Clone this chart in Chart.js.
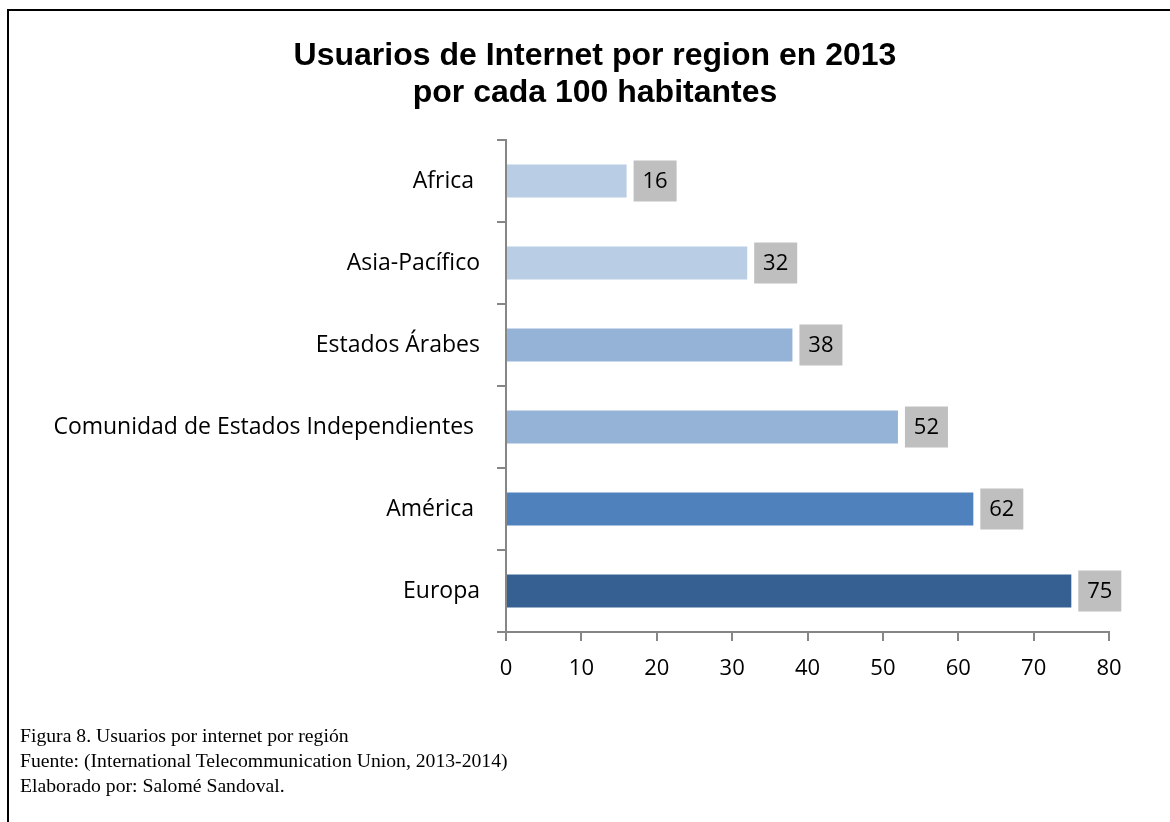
<!DOCTYPE html>
<html>
<head>
<meta charset="utf-8">
<script src="https://cdn.jsdelivr.net/npm/chart.js@4"></script>
<style>
  html, body { margin: 0; padding: 0; background: #fff; }
  #wrap { position: relative; width: 1170px; height: 822px; overflow: hidden; }
  #frame { position: absolute; left: 7px; top: 9px; width: 1200px; height: 900px;
           border-top: 2px solid #000; border-left: 2px solid #000; box-sizing: border-box; }
  #chart { position: absolute; left: 0; top: 0; }
  #title { position: absolute; left: 0; top: 36px; width: 1190px; text-align: center;
           font-family: Arial, "Liberation Sans", sans-serif; font-weight: bold; font-size: 32px; line-height: 37px; color: #000; }
  #caption { position: absolute; left: 20px; top: 723px; font-family: "Liberation Serif", "Times New Roman", serif;
             font-size: 19.7px; line-height: 25px; color: #000; }
</style>
</head>
<body>
<div id="wrap">
  <div id="frame"></div>
  <canvas id="chart" width="1170" height="822"></canvas>
  <div id="title"></div>
  <div id="caption">
    Figura 8. Usuarios por internet por región<br>
    Fuente: (International Telecommunication Union, 2013-2014)<br>
    Elaborado por: Salomé Sandoval.
  </div>
</div>
<script>
// Internet users per 100 inhabitants, 2013
const regions = ['Africa ', 'Asia-Pacífico', 'Estados Árabes', 'Comunidad de Estados Independientes ', 'América ', 'Europa'];
const usersPer100 = [16, 32, 38, 52, 62, 75];
const barColors = ['#B9CDE5', '#B9CDE5', '#95B3D7', '#95B3D7', '#4F81BD', '#376092'];
const xTicks = [0, 10, 20, 30, 40, 50, 60, 70, 80];
const titleLines = ['Usuarios de Internet por region en 2013', 'por cada 100 habitantes'];

document.getElementById('title').innerHTML = titleLines.join('<br>');

const labelFont = '"Open Sans", "Noto Sans", sans-serif';

// Grey value boxes drawn just past the end of each bar
const valueBoxes = {
  id: 'valueBoxes',
  afterDatasetsDraw(chart) {
    const ctx = chart.ctx;
    const meta = chart.getDatasetMeta(0);
    ctx.save();
    ctx.font = '22px ' + labelFont;
    ctx.textAlign = 'center';
    ctx.textBaseline = 'middle';
    meta.data.forEach((bar, i) => {
      const txt = String(usersPer100[i]);
      const w = 43, h = 41;
      const x0 = bar.x + 7;
      const y0 = bar.y - h / 2;
      ctx.fillStyle = '#BFBFBF';
      ctx.fillRect(x0, y0, w, h);
      ctx.fillStyle = '#000';
      ctx.fillText(txt, x0 + w / 2, bar.y + 1);
    });
    ctx.restore();
  }
};

new Chart(document.getElementById('chart'), {
  type: 'bar',
  data: {
    labels: regions,
    datasets: [{
      data: usersPer100,
      backgroundColor: barColors,
      borderWidth: 0,
      categoryPercentage: 0.4,
      barPercentage: 1.0
    }]
  },
  options: {
    indexAxis: 'y',
    responsive: false,
    animation: false,
    events: [],
    layout: { padding: { left: 20, right: 61, top: 140, bottom: 130 } },
    plugins: {
      legend: { display: false },
      tooltip: { enabled: false },
      title: { display: false }
    },
    scales: {
      x: {
        min: 0,
        max: 80,
        afterBuildTicks(scale) { scale.ticks = xTicks.map(v => ({ value: v })); },
        afterFit(scale) { scale.height = 60; },
        grid: { display: true, drawOnChartArea: false, drawTicks: true, tickLength: 9, color: '#868686', lineWidth: 2 },
        border: { display: true, color: '#868686', width: 2 },
        ticks: { color: '#000', font: { family: labelFont, size: 22 }, padding: 15 }
      },
      y: {
        afterFit(scale) { scale.width = 486; },
        grid: { display: true, drawOnChartArea: false, drawTicks: true, tickLength: 9, offset: true, color: '#868686', lineWidth: 2 },
        border: { display: true, color: '#868686', width: 2 },
        ticks: { color: '#000', font: { family: labelFont, size: 23 }, padding: 17, crossAlign: 'near' }
      }
    }
  },
  plugins: [valueBoxes]
});
</script>
</body>
</html>
